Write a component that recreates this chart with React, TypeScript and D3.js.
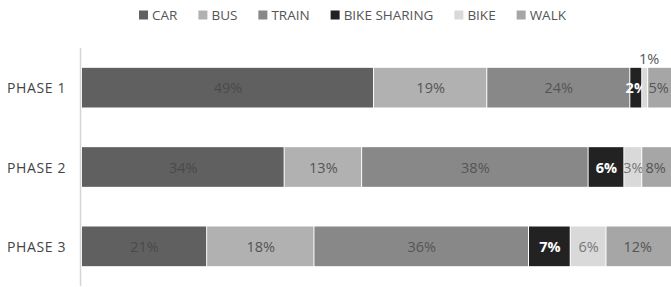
import { useEffect, useRef } from 'react'
import * as d3 from 'd3'

const PHASES = ['PHASE 1', 'PHASE 2', 'PHASE 3']
const MODES = ['CAR', 'BUS', 'TRAIN', 'BIKE SHARING', 'BIKE', 'WALK']
const CAR = [49, 34, 21]
const BUS = [19, 13, 18]
const TRAIN = [24, 38, 36]
const BIKE_SHARING = [2, 6, 7]
const BIKE = [1, 3, 6]
const WALK = [5, 8, 12]

const COLORS = ['#606060', '#b1b1b1', '#888888', '#222222', '#d9d9d9', '#a6a6a6']
const LABEL_COLORS = ['#4a4a4a', '#555555', '#555555', '#ffffff', '#777777', '#555555']

const W = 671
const H = 287
const FONT = '"Open Sans", "Liberation Sans", sans-serif'

export default function App() {
  const svgRef = useRef<SVGSVGElement>(null)

  useEffect(() => {
    if (!svgRef.current) return
    const svg = d3.select(svgRef.current)
    svg.selectAll('*').remove()

    const series = [CAR, BUS, TRAIN, BIKE_SHARING, BIKE, WALK]
    const rows = PHASES.map((p, i) => {
      const r: Record<string, number | string> = { phase: p }
      MODES.forEach((m, j) => { r[m] = series[j][i] })
      return r
    })
    const stacked = d3.stack<Record<string, number | string>>().keys(MODES)(rows as any)

    const x = d3.scaleLinear().domain([0, 100]).range([82, 678])
    const y = d3.scaleBand().domain(PHASES).range([48, 286]).paddingInner(0.5).paddingOuter(0.25)

    // axis line
    svg.append('line')
      .attr('x1', 80.5).attr('x2', 80.5).attr('y1', 48).attr('y2', 286)
      .attr('stroke', '#d4d4d4').attr('stroke-width', 1.5)

    const g = svg.append('g')
    stacked.forEach((s, k) => {
      const grp = g.append('g')
      grp.selectAll('rect')
        .data(s)
        .join('rect')
        .attr('x', d => x(d[0]))
        .attr('y', (_, i) => y(PHASES[i])!)
        .attr('width', d => Math.max(0, x(d[1]) - x(d[0]) - 1))
        .attr('height', y.bandwidth())
        .attr('fill', COLORS[k])

      // label centred on the visible part of the segment
      grp.selectAll('text')
        .data(s)
        .join('text')
        .attr('x', d => (x(d[0]) + Math.min(x(d[1]), W - 2)) / 2)
        .attr('y', (_, i) => {
          const above = MODES[k] === 'BIKE' && i === 0
          return above ? y(PHASES[i])! - 9 : y(PHASES[i])! + y.bandwidth() / 2
        })
        .attr('dx', (_, i) => (MODES[k] === 'BIKE' && i === 0 ? 4 : 0))
        .attr('text-anchor', 'middle')
        .attr('dominant-baseline', 'central')
        .style('font-family', FONT)
        .style('font-size', '14.5px')
        .style('font-weight', MODES[k] === 'BIKE SHARING' ? 700 : 400)
        .style('fill', (_, i) => (MODES[k] === 'BIKE' && i === 0 ? '#555555' : LABEL_COLORS[k]))
        .text(d => `${d[1] - d[0]}%`)
    })

    // category labels
    svg.append('g').selectAll('text')
      .data(PHASES)
      .join('text')
      .attr('x', 66)
      .attr('y', d => y(d)! + y.bandwidth() / 2)
      .attr('text-anchor', 'end')
      .attr('dominant-baseline', 'central')
      .style('font-family', FONT)
      .style('font-size', '14px')
      .style('letter-spacing', '0.6px')
      .style('fill', '#444444')
      .text(d => d)

    // legend
    const legend = svg.append('g')
    let cx = 0
    const gap = 21
    MODES.forEach((m, i) => {
      const item = legend.append('g').attr('transform', `translate(${cx},0)`)
      item.append('rect').attr('x', 0).attr('y', -4.5).attr('width', 9).attr('height', 9).attr('fill', COLORS[i])
      const t = item.append('text').attr('x', 13).attr('dominant-baseline', 'central')
        .style('font-family', FONT).style('font-size', '13.5px').style('fill', '#555555')
        .text(m)
      const tw = (t.node() as SVGTextElement).getComputedTextLength()
      cx += 13 + tw + gap
    })
    const total = cx - gap
    legend.attr('transform', `translate(${(W - total) / 2 + 17},15)`)
  }, [])

  return (
    <svg
      ref={svgRef}
      width={W}
      height={H}
      style={{ position: 'absolute', left: 0, top: 0, background: '#fff', overflow: 'hidden' }}
    />
  )
}
